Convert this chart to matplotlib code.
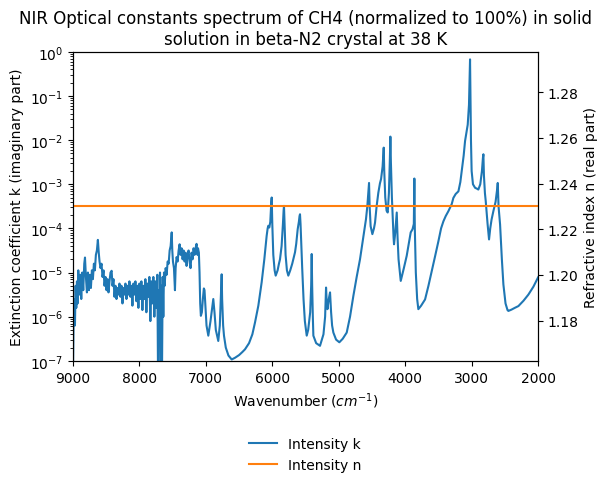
import numpy as np
import matplotlib
matplotlib.use("Agg")
import matplotlib.pyplot as plt

# Wavenumber (cm^-1) and log10 of extinction coefficient k
wavenumber = [
    9000, 8990, 8980, 8970, 8960, 8950, 8940, 8930, 8920, 8905, 8890, 8875, 8860, 8845, 8830, 8819,
    8805, 8790, 8775, 8760, 8745, 8730, 8715, 8700, 8685, 8670, 8655, 8640, 8625, 8612, 8600, 8585,
    8570, 8555, 8540, 8525, 8510, 8495, 8480, 8465, 8450, 8435, 8418, 8405, 8390, 8375, 8360, 8345,
    8330, 8315, 8300, 8285, 8270, 8255, 8240, 8225, 8210, 8195, 8180, 8165, 8150, 8135, 8120, 8105,
    8090, 8075, 8060, 8045, 8030, 8015, 8000, 7985, 7970, 7955, 7940, 7925, 7910, 7895, 7880, 7865,
    7850, 7835, 7820, 7805, 7790, 7775, 7760, 7745, 7730, 7720, 7710, 7700, 7690, 7680, 7670, 7660,
    7650, 7640, 7630, 7620, 7605, 7590, 7575, 7560, 7545, 7530, 7514, 7505, 7495, 7480, 7465, 7455,
    7440, 7425, 7410, 7395, 7380, 7365, 7350, 7335, 7320, 7305, 7290, 7275, 7260, 7245, 7230, 7215,
    7200, 7185, 7170, 7155, 7140, 7125, 7118, 7105, 7095, 7085, 7075, 7060, 7045, 7030, 7020, 7005,
    6990, 6963, 6930, 6900, 6888, 6870, 6850, 6813, 6790, 6770, 6762, 6755, 6740, 6727, 6700, 6660,
    6611, 6560, 6500, 6450, 6411, 6350, 6300, 6260, 6210, 6160, 6120, 6085, 6070, 6060, 6045, 6030,
    6015, 6009, 6000, 5985, 5965, 5949, 5920, 5900, 5884, 5860, 5840, 5830, 5824, 5815, 5800, 5780,
    5759, 5730, 5700, 5658, 5640, 5630, 5618, 5600, 5590, 5583, 5575, 5565, 5550, 5530, 5510, 5490,
    5482, 5460, 5430, 5415, 5407, 5400, 5390, 5382, 5340, 5282, 5230, 5205, 5191, 5180, 5170, 5150,
    5131, 5115, 5100, 5081, 5040, 4991, 4940, 4880, 4830, 4780, 4730, 4680, 4640, 4600, 4590, 4570,
    4555, 4544, 4535, 4520, 4494, 4470, 4454, 4430, 4404, 4380, 4363, 4340, 4323, 4315, 4300, 4280,
    4263, 4245, 4230, 4223, 4215, 4200, 4187, 4175, 4168, 4150, 4135, 4127, 4115, 4100, 4067, 4020,
    3977, 3940, 3917, 3890, 3870, 3862, 3855, 3840, 3820, 3802, 3760, 3701, 3650, 3600, 3550, 3500,
    3460, 3425, 3390, 3350, 3300, 3275, 3240, 3199, 3170, 3149, 3120, 3099, 3075, 3059, 3040, 3030,
    3024, 3018, 3010, 3000, 2980, 2948, 2920, 2899, 2870, 2845, 2830, 2823, 2815, 2800, 2788, 2760,
    2738, 2720, 2700, 2673, 2640, 2615, 2607, 2595, 2572, 2545, 2522, 2490, 2460, 2447, 2400, 2350,
    2296, 2220, 2146, 2070, 2000,
]

log10_k = [
    -7.3, -6.0, -5.6, -6.2, -5.3, -5.8, -5.2, -5.7, -4.95, -5.5, -5.05, -5.6, -5.0, -5.4, -4.8, -4.66,
    -5.1, -5.45, -5.0, -5.4, -5.05, -5.35, -4.95, -5.15, -4.8, -4.95, -4.6, -4.5, -4.26, -4.55, -4.75, -4.9,
    -4.8, -5.1, -4.95, -5.3, -5.1, -5.4, -5.15, -5.45, -5.2, -5.0, -4.96, -5.3, -5.15, -5.55, -5.3, -5.6,
    -5.35, -5.5, -5.25, -5.55, -5.3, -5.7, -5.35, -5.5, -5.25, -5.6, -5.3, -5.5, -5.2, -5.55, -5.3, -5.75,
    -5.25, -5.5, -5.2, -5.65, -5.3, -5.8, -5.25, -5.6, -5.2, -5.85, -5.3, -5.6, -5.15, -5.9, -5.25, -5.55,
    -5.1, -6.1, -5.2, -5.7, -5.1, -6.0, -5.2, -5.8, -5.05, -7.3, -5.4, -6.2, -5.0, -7.3, -5.3, -7.3,
    -5.1, -6.0, -5.0, -5.3, -4.9, -5.05, -4.75, -4.8, -4.5, -4.4, -4.09, -4.5, -4.75, -4.9, -5.4, -4.9,
    -4.65, -4.75, -4.5, -4.36, -4.6, -4.45, -4.7, -4.5, -4.75, -4.55, -4.85, -4.6, -4.5, -4.75, -4.9, -4.55,
    -4.7, -4.45, -4.6, -4.45, -4.35, -4.6, -4.45, -4.55, -5.0, -5.7, -5.98, -5.9, -5.6, -5.36, -5.4, -5.8,
    -6.2, -6.43, -6.1, -5.75, -5.60, -5.9, -6.3, -6.55, -6.2, -5.4, -5.04, -5.6, -6.2, -6.43, -6.7, -6.88,
    -6.97, -6.93, -6.87, -6.8, -6.74, -6.6, -6.4, -6.13, -5.75, -5.22, -4.7, -4.17, -4.0, -3.94, -3.98, -3.85,
    -3.4, -3.30, -3.9, -4.6, -4.95, -5.07, -4.95, -4.8, -4.70, -4.4, -3.9, -3.6, -3.49, -3.9, -4.6, -4.95,
    -5.07, -4.95, -4.8, -4.54, -4.35, -4.2, -4.02, -3.85, -3.72, -3.68, -3.9, -4.3, -4.9, -5.6, -6.1, -6.35,
    -6.43, -6.3, -5.9, -5.3, -4.58, -5.3, -6.0, -6.43, -6.6, -6.66, -6.4, -6.0, -5.34, -5.7, -5.83, -5.6,
    -5.45, -5.9, -6.2, -6.36, -6.52, -6.58, -6.5, -6.36, -6.0, -5.53, -5.1, -4.70, -4.3, -3.9, -3.79, -3.5,
    -3.2, -2.97, -3.5, -3.95, -4.13, -4.0, -3.87, -3.5, -3.19, -2.98, -2.88, -2.6, -2.17, -2.7, -3.3, -3.6,
    -3.64, -3.2, -2.4, -1.92, -2.5, -3.3, -3.79, -4.2, -4.36, -4.1, -3.8, -3.64, -4.2, -4.7, -5.19, -4.9,
    -4.62, -4.3, -4.09, -4.02, -3.9, -2.87, -4.0, -5.0, -5.6, -5.83, -5.75, -5.61, -5.3, -4.97, -4.63, -4.29,
    -4.0, -3.84, -3.72, -3.61, -3.45, -3.31, -3.22, -3.16, -2.95, -2.70, -2.35, -2.02, -1.8, -1.65, -1.2, -0.6,
    -0.17, -0.9, -2.0, -2.7, -3.0, -3.08, -3.1, -3.12, -3.0, -2.7, -2.4, -2.32, -2.8, -3.2, -3.38, -3.9,
    -4.25, -4.0, -3.8, -3.61, -3.4, -3.1, -2.97, -3.5, -3.91, -4.7, -5.27, -5.7, -5.85, -5.87, -5.84, -5.8,
    -5.76, -5.64, -5.50, -5.32, -5.11,
]

n_wavenumber = [9000, 2000]
n_values = [1.23, 1.23]

k_values = [10.0 ** v for v in log10_k]

fig = plt.figure(figsize=(6.08, 4.85), dpi=100)
ax = fig.add_axes([0.120, 0.254, 0.765, 0.637])
ax2 = ax.twinx()

l1, = ax.plot(wavenumber, k_values, color="C0", label="Intensity k")
l2, = ax2.plot(n_wavenumber, n_values, color="C1", label="Intensity n")

ax.set_yscale("log")
ax.set_ylim(1e-7, 1e0)
ax.set_xlim(9000, 2000)
ax.set_xticks([9000, 8000, 7000, 6000, 5000, 4000, 3000, 2000])
ax.set_xlabel("Wavenumber ($cm^{-1}$)")
ax.set_ylabel("Extinction coefficient k (imaginary part)")
ax2.set_ylabel("Refractive index n (real part)")
ax.set_title("NIR Optical constants spectrum of CH4 (normalized to 100%) in solid\nsolution in beta-N2 crystal at 38 K")

ax.legend(handles=[l1, l2], loc="upper center", bbox_to_anchor=(0.5, -0.205), frameon=False)

fig.savefig("out.png", dpi=100)
